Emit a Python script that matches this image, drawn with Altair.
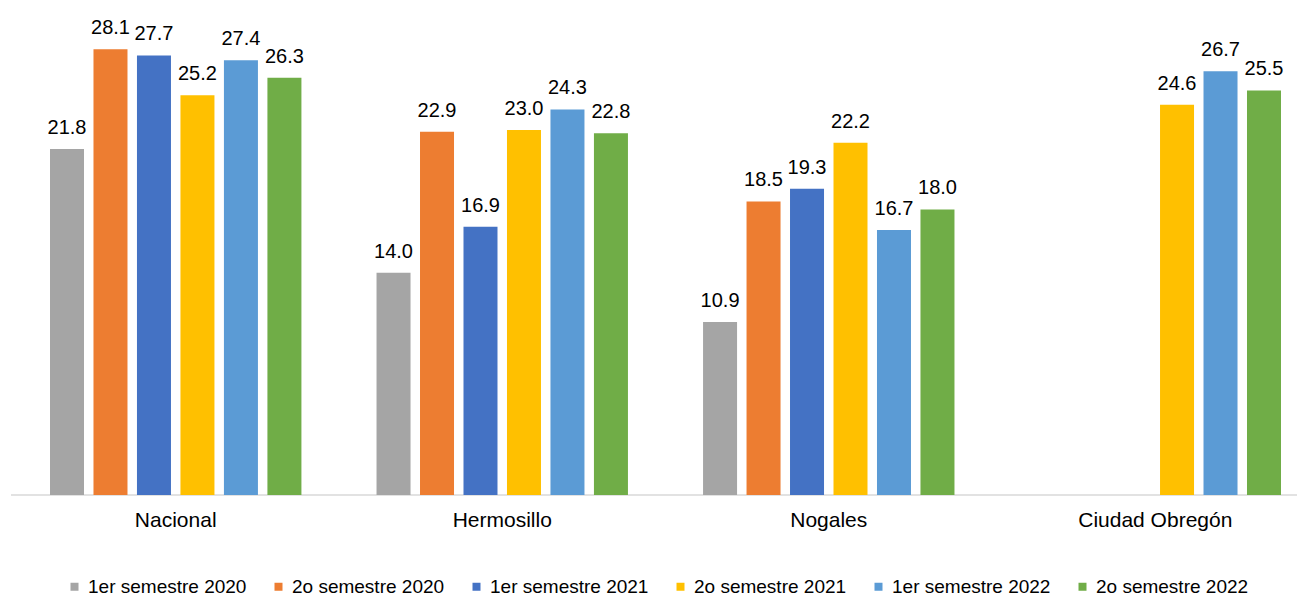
import altair as alt
import pandas as pd

categories = ["Nacional", "Hermosillo", "Nogales", "Ciudad Obregón"]
series = [
    "1er semestre 2020",
    "2o semestre 2020",
    "1er semestre 2021",
    "2o semestre 2021",
    "1er semestre 2022",
    "2o semestre 2022",
]
colors = ["#A5A5A5", "#ED7D31", "#4472C4", "#FFC000", "#5B9BD5", "#70AD47"]

s1_2020 = [21.8, 14.0, 10.9, None]
s2_2020 = [28.1, 22.9, 18.5, None]
s1_2021 = [27.7, 16.9, 19.3, None]
s2_2021 = [25.2, 23.0, 22.2, 24.6]
s1_2022 = [27.4, 24.3, 16.7, 26.7]
s2_2022 = [26.3, 22.8, 18.0, 25.5]

series_values = [s1_2020, s2_2020, s1_2021, s2_2021, s1_2022, s2_2022]

rows = []
for name, vals in zip(series, series_values):
    for cat, v in zip(categories, vals):
        if v is not None:
            rows.append({"categoria": cat, "serie": name, "valor": v})
df = pd.DataFrame(rows)

W = 1286
H = 476
FONT = "Liberation Sans"

x_enc = alt.X(
    "categoria:N",
    sort=categories,
    scale=alt.Scale(domain=categories, range=[39, 1270], paddingInner=0.23, paddingOuter=0),
    axis=alt.Axis(
        title=None,
        domain=False,
        ticks=False,
        tickSize=0,
        labelAngle=0,
        labelFontSize=21,
        labelFont=FONT,
        labelColor="#000000",
        labelPadding=31,
        labelBaseline="alphabetic",
    ),
)
xoff_enc = alt.XOffset(
    "serie:N",
    sort=series,
    scale=alt.Scale(domain=series, paddingInner=0.218, paddingOuter=0),
)
y_enc = alt.Y("valor:Q", scale=alt.Scale(domain=[0, 30], nice=False, zero=True), axis=None)

base = alt.Chart(df)

axis_line = alt.Chart(pd.DataFrame({"v": [0]})).mark_rule(color="#D9D9D9", strokeWidth=1.5).encode(
    y=alt.Y("v:Q", scale=alt.Scale(domain=[0, 30], nice=False, zero=True), axis=None),
    x=alt.value(0),
    x2=alt.value(W),
)

bars = base.mark_bar().encode(
    x=x_enc,
    xOffset=xoff_enc,
    y=y_enc,
    color=alt.Color(
        "serie:N",
        sort=series,
        scale=alt.Scale(domain=series, range=colors),
        legend=alt.Legend(
            title=None,
            orient="none",
            direction="horizontal",
            legendX=54,
            legendY=558,
            symbolType="square",
            symbolSize=64,
            symbolStrokeWidth=0,
            symbolOpacity=1,
            labelFontSize=19,
            labelFont=FONT,
            labelColor="#000000",
            labelLimit=300,
            labelOffset=4,
            columnPadding=22,
            padding=0,
        ),
    ),
)

labels = base.mark_text(
    baseline="alphabetic",
    align="center",
    dy=-15,
    fontSize=20,
    font=FONT,
    color="#000000",
).encode(
    x=x_enc,
    xOffset=xoff_enc,
    y=y_enc,
    text=alt.Text("valor:Q", format=".1f"),
)

chart = (
    alt.layer(axis_line, bars, labels)
    .properties(
        width=W,
        height=H,
        background="white",
        autosize=alt.AutoSizeParams(type="none"),
        padding={"left": 3, "top": 11, "right": 0, "bottom": 101},
    )
    .configure_view(strokeWidth=0, stroke="transparent")
)

chart.save("out.html", embed_options={"renderer": "svg", "actions": False})
